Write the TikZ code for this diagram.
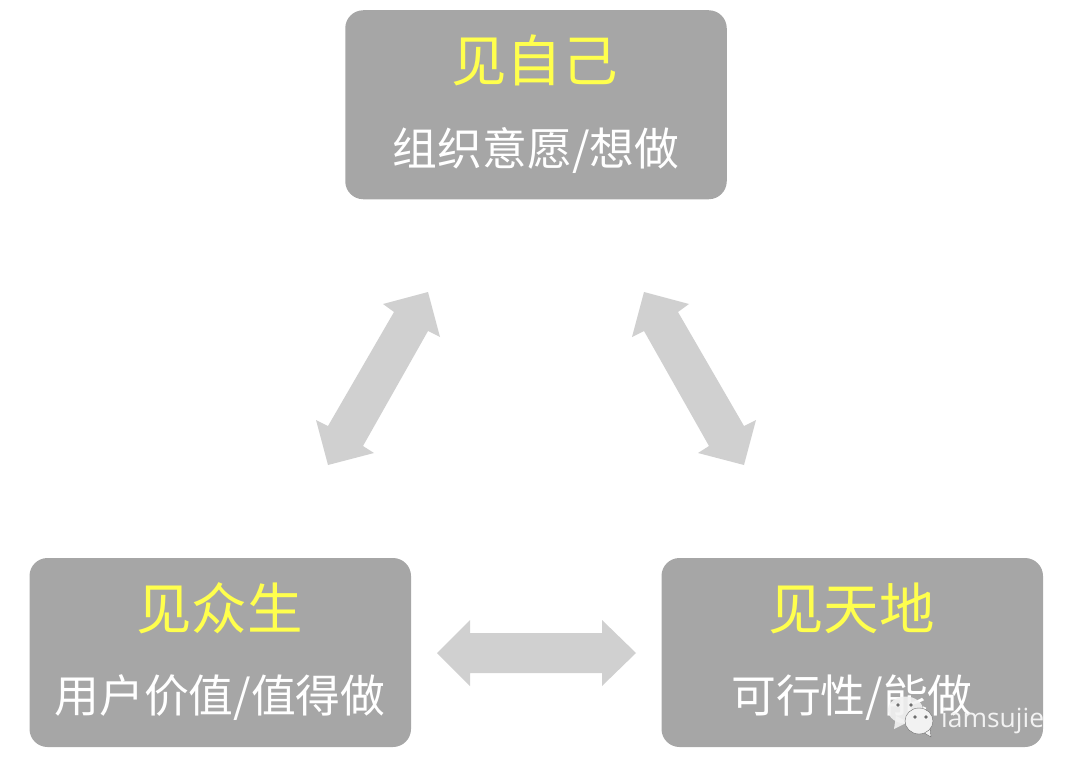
\documentclass[tikz,border=0pt]{standalone}
\usepackage{fontspec}
\setmainfont{Noto Sans}
\newfontfamily\cjk{Noto Sans CJK SC}
\newfontfamily\wm{Open Sans}
\definecolor{boxgray}{HTML}{A6A6A6}
\definecolor{arrowgray}{HTML}{D0D0D0}
\definecolor{headyellow}{HTML}{FFFF4D}
\definecolor{wmwhite}{HTML}{F2F2F2}
\definecolor{wmshade}{HTML}{6E6E6E}
\tikzset{
  card/.style={fill=boxgray,rounded corners=18pt,minimum width=381.5pt,minimum height=189pt,inner sep=0pt,draw=none},
  headtext/.style={text=headyellow,font=\cjk\fontsize{55.5}{55.5}\selectfont,inner sep=0pt,anchor=center},
  subtext/.style={text=white,font=\cjk\fontsize{44.8}{44.8}\selectfont,inner sep=0pt,anchor=center},
  blockarrow/.style={fill=arrowgray,draw=none},
  eye/.style={fill=wmshade,draw=none},
  wmtext/.style={inner sep=0pt,font=\wm\fontsize{26.4}{26.4}\selectfont,anchor=base west}
}
\begin{document}
\begin{tikzpicture}[x=1pt,y=-1pt]
\useasboundingbox (0,0) rectangle (1080,768);
\node[card] (top) at (536,104.75) {};
\node[card] (left) at (220.25,652.5) {};
\node[card] (right) at (852.25,652.5) {};
\node[headtext] (toph) at (534.5,60) {见自己};
\node[subtext] (tops) at (536,150.5) {组织意愿/想做};
\node[headtext] (lefth) at (219.5,608) {见众生};
\node[subtext] (lefts) at (220,697.5) {用户价值/值得做};
\node[headtext] (righth) at (851.5,608) {见天地};
\node[subtext] (rights) at (852,697.5) {可行性/能做};
\fill[blockarrow] (428,292)--(383,304)--(394,312)--(328,426)--(316,420)--(328,465)--(374,453)--(363,446)--(428,331)--(440,337)--cycle;
\fill[blockarrow] (644,292)--(689,304)--(678,312)--(744,426)--(756,420)--(744,465)--(698,453)--(709,446)--(644,331)--(632,337)--cycle;
\fill[blockarrow] (437,653)--(470,620)--(470,633)--(602,633)--(602,620)--(636,653)--(602,686)--(602,673)--(470,673)--(470,686)--cycle;
% watermark
\fill[wmwhite,opacity=.9] (894,729)--(896,716)--(908,722)--cycle;
\fill[wmwhite,opacity=.9] (905.5,710) ellipse [x radius=17.5,y radius=13.5];
\fill[eye] (898,705) circle (1.8);
\fill[eye] (911,705) circle (1.8);
\fill[wmwhite,draw=wmshade,line width=.4pt] (931,737)--(921,731)--(930,727)--cycle;
\fill[wmwhite,draw=wmshade,line width=.4pt] (919,721) ellipse [x radius=14,y radius=13];
\fill[eye] (915,717) circle (1.8);
\fill[eye] (926,717) circle (1.8);
\node[wmtext,text=wmwhite] (wmt) at (941,727) {iamsujie};
\end{tikzpicture}
\end{document}
